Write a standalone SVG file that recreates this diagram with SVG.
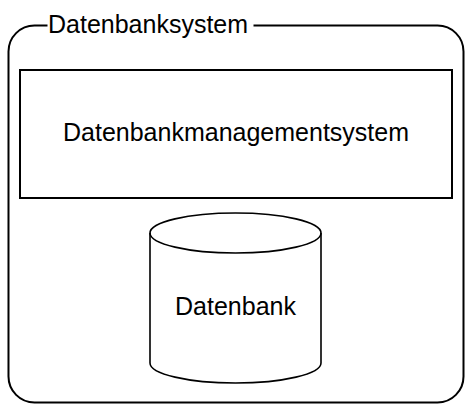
<svg xmlns="http://www.w3.org/2000/svg" width="474" height="414" viewBox="0 0 474 414">
<style>
  .lbl { font-family: "Liberation Sans", Arial, sans-serif; font-size: 25px; fill: #000; }
  .shape { fill: #fff; stroke: #000; }
</style>
<rect width="474" height="414" fill="#fff"/>
<g id="datenbanksystem">
  <rect class="shape" x="8.5" y="25.5" width="455" height="377" rx="26" ry="26" stroke-width="2"/>
  <rect x="47.5" y="15" width="206" height="20" fill="#fff"/>
  <text class="lbl" x="48" y="33">Datenbanksystem</text>
</g>
<g id="dbms">
  <rect class="shape" x="20" y="70" width="432" height="128" stroke-width="2"/>
  <text class="lbl" x="236" y="141" text-anchor="middle">Datenbankmanagementsystem</text>
</g>
<g id="datenbank">
  <path class="shape" stroke-width="1.6" d="M150,233 L150,363 A85.5,20 0 0 0 321,363 L321,233 A85.5,20 0 0 0 150,233 Z"/>
  <path fill="none" stroke="#000" stroke-width="1.6" d="M150,233 A85.5,20 0 0 0 321,233"/>
  <text class="lbl" x="235.5" y="315" text-anchor="middle">Datenbank</text>
</g>
<g id="connectors"></g>
</svg>
